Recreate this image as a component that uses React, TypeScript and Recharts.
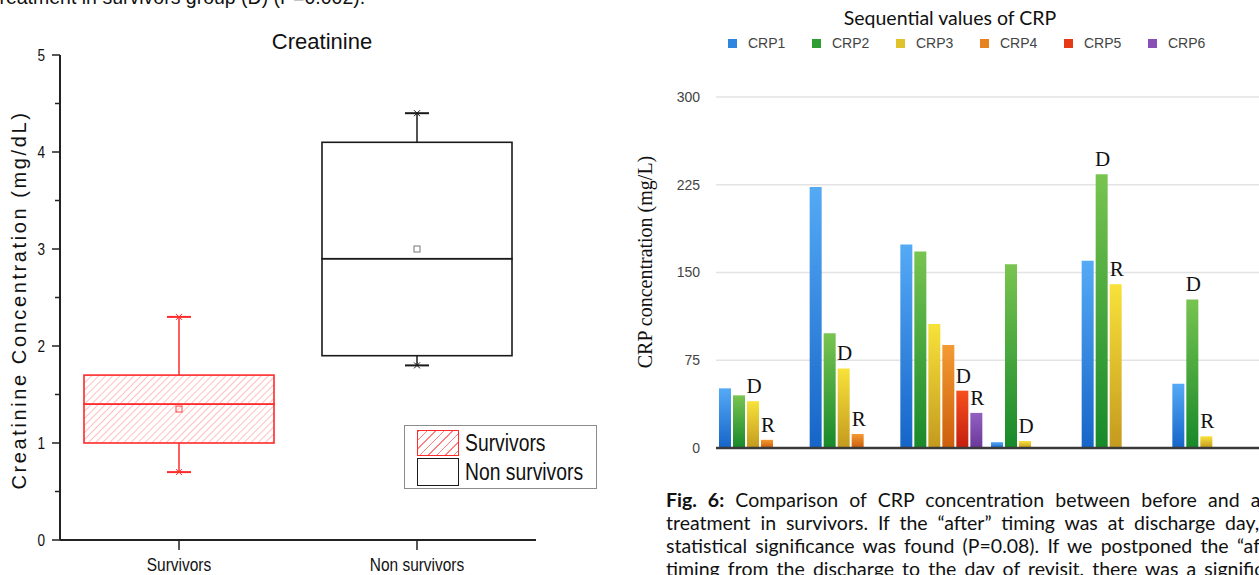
import {
  ComposedChart,
  BarChart,
  Bar,
  Scatter,
  XAxis,
  YAxis,
  CartesianGrid,
  Legend,
  LabelList,
} from "recharts";

// creatinine summary per outcome group (mg/dL)
const groups = ["Survivors", "Non survivors"];
const lowerWhisker = [0.7, 1.8];
const firstQuartile = [1.0, 1.9];
const medians = [1.4, 2.9];
const thirdQuartile = [1.7, 4.1];
const upperWhisker = [2.3, 4.4];
const means = [1.35, 3.0];
const creatinineTicks = [0, 0.5, 1, 1.5, 2, 2.5, 3, 3.5, 4, 4.5, 5];

// sequential CRP values per patient (mg/L)
const patients = ["1", "2", "3", "4", "5", "6"];
const crp1 = [51, 223, 174, 5, 160, 55];
const crp2 = [45, 98, 168, 157, 234, 127];
const crp3 = [40, 68, 106, 6, 140, 10];
const crp4 = [7, 12, 88, null, null, null];
const crp5 = [null, null, 49, null, null, null];
const crp6 = [null, null, 30, null, null, null];
const crpNames = ["CRP1", "CRP2", "CRP3", "CRP4", "CRP5", "CRP6"];
// which measurement was taken at discharge (D) and at revisit (R)
const dischargeAt = [3, 3, 5, 3, 2, 2];
const revisitAt = [4, 4, 6, null, 3, 3];
const crpTicks = [0, 75, 150, 225, 300];

const sans = "'Liberation Sans', Arial, sans-serif";
const serif = "'Liberation Serif', 'Times New Roman', serif";
const humanist = "Lato, 'Open Sans', sans-serif";

const groupStroke = ["#ff2a2a", "#1a1a1a"];
const groupFill = ["url(#hatch)", "#ffffff"];
const meanStroke = ["#ff4040", "#777777"];

const crpColors = [
  { top: "#55aaf6", bottom: "#1565c8", swatch: "#2f86e0" },
  { top: "#78c450", bottom: "#17892a", swatch: "#2e9e34" },
  { top: "#f8e23a", bottom: "#c49a1e", swatch: "#e0c22c" },
  { top: "#f39a32", bottom: "#cc5e0c", swatch: "#e8821f" },
  { top: "#f5501e", bottom: "#c41e0e", swatch: "#e53a16" },
  { top: "#9260c0", bottom: "#6a3898", swatch: "#8a4fb5" },
];

const boxRows = groups.map((name, i) => ({
  name,
  base: lowerWhisker[i],
  lowTail: firstQuartile[i] - lowerWhisker[i],
  lowBox: medians[i] - firstQuartile[i],
  highBox: thirdQuartile[i] - medians[i],
  highTail: upperWhisker[i] - thirdQuartile[i],
  mean: means[i],
}));

const crpSeries = [crp1, crp2, crp3, crp4, crp5, crp6];
const crpRows = patients.map((patient, i) => {
  const row: Record<string, any> = { patient };
  crpSeries.forEach((s, k) => {
    row[`crp${k + 1}`] = s[i];
    row[`mark${k + 1}`] =
      dischargeAt[i] === k + 1 ? "D" : revisitAt[i] === k + 1 ? "R" : "";
  });
  return row;
});

function Whisker(props: any, end: "top" | "bottom") {
  const { x, y, width, height, index } = props;
  const c = groupStroke[index];
  const cx = x + width / 2;
  const capY = end === "bottom" ? y + height : y;
  return (
    <g>
      <line x1={cx} x2={cx} y1={y} y2={y + height} stroke={c} strokeWidth={1.5} />
      <line x1={cx - 12} x2={cx + 12} y1={capY} y2={capY} stroke={c} strokeWidth={2} />
      <path
        d={`M${cx - 3},${capY - 3}L${cx + 3},${capY + 3}M${cx + 3},${capY - 3}L${cx - 3},${capY + 3}`}
        stroke={c}
        strokeWidth={1}
      />
    </g>
  );
}

function BoxPart(props: any) {
  const { x, y, width, height, index } = props;
  return (
    <rect
      x={x}
      y={y}
      width={width}
      height={height}
      fill={groupFill[index]}
      stroke={groupStroke[index]}
      strokeWidth={1.6}
    />
  );
}

function MeanMark(props: any) {
  const { cx, cy, payload } = props;
  const i = groups.indexOf(payload.name);
  return (
    <rect x={cx - 3} y={cy - 3} width={6} height={6} fill="none" stroke={meanStroke[i]} strokeWidth={1} />
  );
}

function LevelTick({ x, y, payload }: any) {
  const major = Number.isInteger(payload.value);
  return (
    <g>
      <line x1={x - (major ? 8 : 5)} x2={x} y1={y} y2={y} stroke="#222" strokeWidth={1.5} />
      {major && (
        <text
          x={x - 15}
          y={y}
          dy={6}
          textAnchor="end"
          fontSize={17}
          fontFamily={sans}
          fill="#111"
          transform={`translate(${x - 15} 0) scale(0.8 1) translate(${-(x - 15)} 0)`}
        >
          {payload.value}
        </text>
      )}
    </g>
  );
}

function GroupTick({ x, y, payload }: any) {
  return (
    <g>
      <line x1={x} x2={x} y1={y} y2={y + 10} stroke="#222" strokeWidth={1.5} />
      <text
        x={x}
        y={y + 31}
        textAnchor="middle"
        fontSize={18}
        fontFamily={sans}
        fill="#111"
        transform={`translate(${x} 0) scale(0.86 1) translate(${-x} 0)`}
      >
        {payload.value}
      </text>
    </g>
  );
}

function BoxLegend() {
  const swatch = { width: 42, height: 26, boxSizing: "border-box" as const, marginRight: 6, flex: "none" };
  const label = {
    display: "inline-block",
    transform: "scaleX(0.84)",
    transformOrigin: "left center",
    whiteSpace: "nowrap" as const,
  };
  return (
    <div
      style={{
        width: 193,
        height: 64,
        boxSizing: "border-box",
        border: "1px solid #8c8c8c",
        padding: "3px 0 0 12px",
        fontFamily: sans,
        fontSize: 23,
        color: "#111",
        lineHeight: "28px",
      }}
    >
      <div style={{ display: "flex", alignItems: "center", height: 28 }}>
        <span
          style={{
            ...swatch,
            border: "1.5px solid #ff2a2a",
            background: "repeating-linear-gradient(135deg, #ff8080 0 1px, #fff 1px 6px)",
          }}
        />
        <span style={label}>{groups[0]}</span>
      </div>
      <div style={{ display: "flex", alignItems: "center", height: 29 }}>
        <span style={{ ...swatch, height: 28, border: "1.5px solid #1a1a1a", background: "#fff" }} />
        <span style={label}>{groups[1]}</span>
      </div>
    </div>
  );
}

function MarkLabel(props: any) {
  const { x, y, width, value } = props;
  if (!value) return null;
  return (
    <text
      x={Number(x) + Number(width) / 2 + 1}
      y={Number(y) - 8}
      textAnchor="middle"
      fontSize={21}
      fontFamily={serif}
      fill="#111"
    >
      {value}
    </text>
  );
}

function CrpLegend() {
  return (
    <div style={{ display: "flex", fontFamily: sans, fontSize: 14, color: "#444" }}>
      {crpNames.map((n, k) => (
        <div key={n} style={{ width: 84, display: "flex", alignItems: "center" }}>
          <span
            style={{ width: 9, height: 9, background: crpColors[k].swatch, marginRight: 11, display: "inline-block" }}
          />
          {n}
        </div>
      ))}
    </div>
  );
}

const captionLines = [
  <>
    <b>Fig. 6:</b> Comparison of CRP concentration between before and after
  </>,
  <>treatment in survivors. If the “after” timing was at discharge day, no</>,
  <>statistical significance was found (P=0.08). If we postponed the “after”</>,
  <>timing from the discharge to the day of revisit, there was a significant</>,
];

export default function App() {
  return (
    <div
      style={{
        position: "fixed",
        left: 0,
        top: 0,
        width: 1259,
        height: 575,
        overflow: "hidden",
        background: "#fff",
      }}
    >
      <div
        style={{
          position: "absolute",
          left: -6,
          top: -14,
          fontFamily: sans,
          fontSize: 19.5,
          whiteSpace: "nowrap",
          color: "#111",
        }}
      >
        treatment in survivors group (D) (P=0.002).
      </div>

      {/* Creatinine box plot */}
      <div
        style={{
          position: "absolute",
          left: 222,
          top: 29,
          width: 200,
          textAlign: "center",
          fontFamily: sans,
          fontSize: 22,
          color: "#111",
        }}
      >
        Creatinine
      </div>
      <div style={{ position: "absolute", left: 0, top: 0 }}>
        <ComposedChart
          width={620}
          height={575}
          data={boxRows}
          margin={{ top: 55, right: 84, bottom: 0, left: 0 }}
        >
          <defs>
            <pattern id="hatch" width="5" height="5" patternUnits="userSpaceOnUse" patternTransform="rotate(45)">
              <line x1="0" y1="0" x2="0" y2="5" stroke="#ff8080" strokeWidth="1" />
            </pattern>
          </defs>
          <XAxis
            dataKey="name"
            height={35}
            tickSize={0}
            tickMargin={0}
            tickLine={false}
            axisLine={{ stroke: "#222", strokeWidth: 2 }}
            tick={<GroupTick />}
          />
          <YAxis
            width={60}
            domain={[0, 5]}
            ticks={creatinineTicks}
            interval={0}
            tickSize={0}
            tickMargin={0}
            tickLine={false}
            axisLine={{ stroke: "#222", strokeWidth: 2 }}
            tick={<LevelTick />}
            label={{
              content: () => (
                <text
                  x={26}
                  y={300}
                  transform="rotate(-90 26 300)"
                  textAnchor="middle"
                  fontFamily={sans}
                  fontSize={20}
                  letterSpacing={2.6}
                  fill="#111"
                >
                  Creatinine Concentration (mg/dL)
                </text>
              ),
            }}
          />
          <Bar dataKey="base" stackId="box" fill="transparent" barSize={190} isAnimationActive={false} />
          <Bar dataKey="lowTail" stackId="box" barSize={190} isAnimationActive={false} shape={(p: any) => Whisker(p, "bottom")} />
          <Bar dataKey="lowBox" stackId="box" barSize={190} isAnimationActive={false} shape={BoxPart} />
          <Bar dataKey="highBox" stackId="box" barSize={190} isAnimationActive={false} shape={BoxPart} />
          <Bar dataKey="highTail" stackId="box" barSize={190} isAnimationActive={false} shape={(p: any) => Whisker(p, "top")} />
          <Scatter dataKey="mean" isAnimationActive={false} shape={MeanMark} />
          <Legend
            layout="horizontal"
            verticalAlign="middle"
            align="center"
            wrapperStyle={{ left: 404, top: 425, width: 193 }}
            content={() => <BoxLegend />}
          />
        </ComposedChart>
      </div>

      {/* CRP bar chart */}
      <div
        style={{
          position: "absolute",
          left: 750,
          top: 6,
          width: 400,
          textAlign: "center",
          fontFamily: humanist,
          fontSize: 19.5,
          color: "#111",
        }}
      >
        Sequential values of CRP
      </div>
      <div style={{ position: "absolute", left: 630, top: 0 }}>
        <BarChart
          width={630}
          height={470}
          data={crpRows}
          margin={{ top: 97, right: 0, bottom: 0, left: 0 }}
          barCategoryGap={3}
          barGap={2}
        >
          <defs>
            {crpColors.map((c, k) => (
              <linearGradient key={k} id={`crpGrad${k + 1}`} x1="0" y1="0" x2="0" y2="1">
                <stop offset="0%" stopColor={c.top} />
                <stop offset="100%" stopColor={c.bottom} />
              </linearGradient>
            ))}
          </defs>
          <CartesianGrid vertical={false} stroke="#e3e3e3" strokeWidth={1.5} />
          <XAxis
            dataKey="patient"
            height={22}
            tick={false}
            tickLine={false}
            axisLine={{ stroke: "#3a3a3a", strokeWidth: 2.5 }}
          />
          <YAxis
            width={86}
            domain={[0, 300]}
            ticks={crpTicks}
            interval={0}
            axisLine={false}
            tickLine={false}
            tickSize={6}
            tickMargin={10}
            tick={{ fontSize: 14, fontFamily: sans, fill: "#444" }}
            label={{
              content: () => (
                <text
                  x={22}
                  y={262}
                  transform="rotate(-90 22 262)"
                  textAnchor="middle"
                  fontFamily={serif}
                  fontSize={20}
                  fill="#111"
                >
                  CRP concentration (mg/L)
                </text>
              ),
            }}
          />
          {crpNames.map((n, k) => (
            <Bar
              key={n}
              name={n}
              dataKey={`crp${k + 1}`}
              fill={`url(#crpGrad${k + 1})`}
              isAnimationActive={false}
            >
              <LabelList dataKey={`mark${k + 1}`} content={MarkLabel} />
            </Bar>
          ))}
          <Legend
            layout="horizontal"
            verticalAlign="middle"
            align="center"
            wrapperStyle={{ left: 98, top: 35, width: 520 }}
            content={() => <CrpLegend />}
          />
        </BarChart>
      </div>

      {/* figure caption */}
      <div
        style={{
          position: "absolute",
          left: 666,
          top: 488,
          width: 625,
          fontFamily: humanist,
          fontSize: 19.5,
          lineHeight: "23px",
          color: "#111",
        }}
      >
        {captionLines.map((l, i) => (
          <div key={i} style={{ textAlign: "justify", textAlignLast: "justify", whiteSpace: "nowrap" }}>
            {l}
          </div>
        ))}
      </div>
    </div>
  );
}
